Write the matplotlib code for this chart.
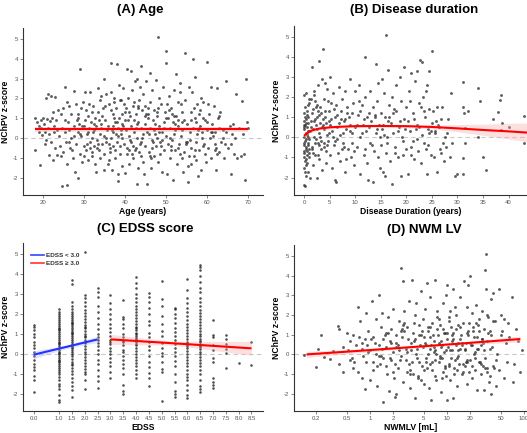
import numpy as np
import matplotlib
matplotlib.use("Agg")
import matplotlib.pyplot as plt
from matplotlib.lines import Line2D

plt.rcParams['font.family'] = ['Liberation Sans', 'DejaVu Sans']

# ---------------- Panel A: Age ----------------
age_x = [18,18.2,18.5,19,19,19.3,19.5,19.8,20,20.3,20.5,20.7,20.8,21,21.2,21.3,21.5,21.7,22,22,22.2,22.5,22.7,22.8,
         23,23,23.3,23.5,23.7,24,24.2,24.5,24.7,24.8,25,25,25.3,25.5,25.6,25.8,26,26,26.2,26.5,26.7,27,27,27.3,27.5,27.6,
         27.8,28,28,28.3,28.5,28.5,28.7,29,29,29.2,29.4,29.6,29.8,30,30,
         30.2,30.5,30.7,31,31,31.2,31.5,31.6,31.8,32,32,32.2,32.4,32.5,32.7,33,33,33.2,33.4,33.5,33.7,33.9,34,34,34.2,34.5,
         34.6,34.8,35,35,35.2,35.4,35.5,35.7,35.9,30.3,31.3,32.8,34.3,30.8,
         36,36.2,36.3,36.5,36.5,36.7,36.8,37,37,37.2,37.4,37.5,37.7,37.9,38,38,38.2,38.4,38.5,38.6,38.8,39,39,39.2,39.4,39.5,
         39.7,39.9,40,40,36.1,37.3,38.3,39.3,36.9,38.9,37.6,39.8,
         40.2,40.3,40.5,40.6,40.8,41,41,41.2,41.4,41.5,41.6,41.8,42,42,42.2,42.4,42.5,42.7,42.9,43,43,43.2,43.3,43.5,43.6,43.8,
         44,44,44.2,44.3,44.5,44.6,44.8,45,45,40.7,41.7,42.6,43.7,44.4,42.3,43.4,
         45.2,45.3,45.4,45.6,45.8,46,46,46.2,46.3,46.5,46.7,46.8,47,47,47.3,47.5,47.6,47.8,48,48,48.2,48.4,48.5,48.7,49,49,
         49.2,49.4,49.5,49.7,50,50,50,50.2,45.7,46.6,47.4,48.6,49.6,
         50.4,50.6,50.8,51,51,51.2,51.4,51.6,51.8,52,52,52.3,52.5,52.5,52.7,53,53,53.2,53.5,53.6,53.8,54,54,54.3,54.5,54.6,
         54.8,55,55.3,55.4,51.5,52.8,53.3,54.2,
         55.6,55.8,56,56,56.3,56.5,56.6,56.8,57,57,57.2,57.5,57.6,57.8,58,58,58.3,58.5,58.6,58.8,59,59.2,59.5,59.7,60,60,
         56.2,57.3,58.2,59.4,
         60.3,60.5,60.8,61,61,61.3,61.6,61.8,62,62.2,62.5,62.6,62.8,63,63.2,63.5,63.8,64,64.5,64.7,65,
         65.5,65.7,65.8,66,66.5,67,67.3,67.8,68.3,68.5,69,69.3,69.5,69.8,70,66.3]
age_y = [1.0,-0.6,0.8,0.6,0.3,-1.35,0.9,0.15,1.0,0.7,0.3,-0.1,2.0,0.95,2.2,0.5,-0.85,0.85,2.1,-0.2,1.0,-1.1,0.3,0.6,
         2.05,-0.5,0.9,-0.85,1.4,0.1,-0.4,1.2,-2.4,0.5,1.5,-0.7,0.3,2.6,-0.2,1.8,-2.35,-1.3,0.8,1.6,-0.5,0.0,1.2,-1.0,2.35,0.6,
         -1.7,1.7,-0.3,0.9,-2.0,1.0,0.3,3.5,-0.8,1.5,0.1,-1.2,1.8,0.6,-0.4,
         2.3,-0.6,0.2,1.1,-1.1,0.5,-0.2,2.3,0.8,-0.9,0.0,1.6,-0.4,0.4,1.0,-1.7,0.6,-0.1,2.5,1.3,-0.6,0.2,1.9,-1.0,0.7,-0.3,
         1.5,0.1,3.0,-0.8,0.9,2.2,-0.2,0.4,-1.3,0.9,1.7,-1.3,2.1,-0.3,
         0.6,1.7,-0.7,3.8,0.0,2.3,-1.6,1.2,-0.4,0.3,2.0,-1.0,0.8,1.5,3.75,-0.2,0.5,-2.17,1.0,2.7,-0.8,0.2,1.9,-1.4,0.7,2.5,
         -0.3,1.3,-1.75,0.9,-0.3,1.8,-1.8,0.0,0.4,1.9,-0.6,1.7,
         0.4,1.5,3.5,-0.5,2.0,-1.3,0.1,1.1,3.4,-0.2,0.6,2.4,-1.0,1.6,0.3,-0.6,2.9,1.2,-2.3,0.0,3.0,0.8,-1.5,1.9,-0.3,0.5,
         3.65,-0.9,1.4,0.2,2.2,-1.8,0.7,-0.4,1.6,0.9,-0.8,0.5,2.6,-1.2,1.8,-0.7,
         2.9,-2.3,0.3,1.0,-0.7,3.3,0.5,1.8,-1.5,-0.1,2.4,0.9,-0.9,1.4,0.2,2.95,-0.4,1.1,5.1,-1.2,0.6,2.0,-0.2,1.7,0.3,-1.7,
         2.6,0.8,-0.6,1.3,4.4,3.8,0.1,-1.8,1.5,-0.5,0.7,-0.8,0.5,
         1.0,-0.3,2.1,0.5,-1.0,1.5,-0.1,0.8,-2.1,2.4,0.2,-0.6,3.25,1.1,-1.3,0.6,1.8,-0.3,2.8,0.1,-1.0,1.3,0.4,-0.7,4.3,1.9,
         -0.2,0.7,-2.2,-1.4,1.2,0.9,2.3,-1.7,
         2.6,0.3,1.3,-0.5,2.3,4.0,0.5,-0.9,3.1,1.0,-0.2,1.7,0.2,-1.9,1.2,-0.6,0.6,2.0,-1.6,0.0,1.8,-0.3,0.9,-1.2,3.85,0.4,
         -1.3,0.8,1.4,-0.8,
         -0.5,1.2,0.0,2.6,-1.0,0.7,1.6,-0.3,0.3,-1.6,2.55,1.0,-0.7,0.5,1.3,-0.2,0.4,-1.0,2.9,0.3,-0.5,
         0.6,-0.3,-1.8,0.2,-0.8,2.2,-1.0,0.5,-0.9,1.85,-0.8,-2.1,3.0,0.8,0.5,0.7]
age_x2 = [19.5,20.5,21.5,22.5,23.5,24.5,25.5,26.5,27.5,28.5,29.5, 30.5,31.5,32.5,33.5,34.5,35.5,
          30.1,31.1,32.1,33.1,34.1,35.1, 36.4,37.4,38.4,39.4,40.4, 36.6,37.8,38.7,39.6,
          40.9,41.9,42.9,43.9,44.9, 41.1,42.1,43.1,44.1, 45.9,46.9,47.9,48.9,49.9, 45.1,46.1,47.1,48.1,49.1,
          50.9,51.9,52.9,53.9,54.9, 50.3,51.3,52.3,53.3,54.3, 55.9,56.9,57.9,58.9,59.9, 55.1,56.1,57.1,58.1,59.1,
          60.9,61.9,62.9,63.9, 60.1,61.1,62.1, 64.3,66.8,68.8,
          26.3,28.9,31.9,33.8,36.2,38.1,41.3,43.2,46.4,48.3,51.1,53.7,57.4,61.5,
          27.1,29.1,32.3,34.9,37.1,39.1,42.8,45.5,47.7,50.7,52.1,55.7,58.7,62.3]
age_y2 = [0.5,-0.3,0.2,1.3,0.4,-0.9,0.9,-0.2,0.1,1.2,0.6, 1.4,-0.5,0.7,-0.3,1.1,0.0,
          -0.9,0.3,1.3,-0.5,0.5,1.6, -0.5,1.0,0.1,1.2,-0.8, 1.4,0.2,-0.4,0.6,
          1.3,-0.4,0.7,-0.2,1.1, -0.6,0.9,1.5,0.0, 0.2,-0.2,1.3,-0.4,1.0, 1.2,-0.9,0.4,1.5,-0.1,
          0.0,1.1,-0.5,0.8,-0.3, 1.7,-0.6,0.4,-0.8,0.9, -0.1,1.5,0.4,-0.4,0.8, -0.2,0.9,-0.6,0.5,1.0,
          0.3,-0.6,1.1,0.0, 1.7,0.3,-0.5, -0.3,0.0,0.2,
          0.4,0.7,-0.7,0.9,-1.1,0.8,-0.1,1.6,-1.0,0.3,-0.4,1.7,-1.1,0.1,
          -0.6,0.2,0.3,-1.6,0.6,0.4,-0.5,1.2,0.0,1.4,0.7,-0.9,0.3,-0.8]
fitA_x = [18, 70]
fitA_y = [0.45, 0.45]
fitA_lo = [0.33, 0.33]
fitA_hi = [0.57, 0.57]

# ---------------- Panel B: Disease duration ----------------
dur_x = [0,0.2,0.3,0.1,0.2,0,0.1,0.3,0,0.2,0.1,0.3,0,0.2,0.1,0.3,0,0.2,0.1,0.4,0.5,0.5,0.6,0.6,0.7,0.7,0.8,0.8,0.9,0.9,
         1,1,0.4,0.5,0.6,0.2,0.3,0.1,0.4,0.7,0.8,0.9,0.0,0.1,
         1.2,1.3,1.5,1.5,1.6,1.8,1.8,2,2,2.2,2.2,2.4,2.5,2.5,2.7,2.8,2.9,3,3,3.1,3.2,3.3,3.5,3.6,1.4,1.7,2.1,2.6,2.3,2.9,
         1.9,1.1,2.7,
         3.8,3.9,4,4,4.2,4.3,4.5,4.5,4.7,4.8,5,5,5.1,5.3,5.4,3.7,4.4,4.9,3.4,4.1,
         5.5,5.6,5.8,6,6,6.2,6.3,6.5,6.7,6.8,7,7,7.2,7.5,7.6,7.8,8,8,8.2,8.5,8.6,8.8,9,9,9.2,9.4,9.5,9.7,10,10,6.4,7.3,8.3,
         9.3,5.9,7.9,
         10.3,10.5,10.8,11,11,11.3,11.5,11.7,12,12,12.2,12.4,12.5,12.7,12.9,13,13.2,13.4,13.5,13.7,14,14,14.2,14.4,14.5,
         14.7,15,15,10.7,11.8,13.8,14.9,
         15.2,15.3,15.5,15.7,15.8,16,16,16.2,16.5,16.6,16.8,17,17.2,17.3,17.5,17.7,18,18,18.3,18.5,18.7,18.9,19,19.3,19.5,
         19.6,20,20,15.9,17.6,19.2,16.4,
         20.3,20.5,20.7,21,21,21.3,21.5,21.8,22,22,22.3,22.5,22.7,22.9,23,23,23.3,23.5,23.7,24,24,24.2,24.5,24.5,24.8,25,25,
         20.8,22.1,23.8,24.3,21.6,
         25.3,25.5,25.7,26,26,26.3,26.5,26.8,27,27.3,27.7,28,28.5,28.8,29,29.5,30,25.8,27.5,
         31,31,31.2,31.4,31,31,31.5,32,34,34.5,34,35,35.5,37,38,38.3,38.5,38.7,38.5,40,43,43]
dur_y = [-2.35,-2.4,-1.9,-1.5,-1.2,-1.0,-0.8,-0.6,-0.4,-0.2,0.0,0.2,0.4,0.6,0.8,0.9,1.2,1.5,2.1,2.2,-0.9,0.1,-1.3,0.5,
         1.6,-0.3,1.0,-1.7,0.3,-0.6,1.7,-0.1,-1.1,1.3,-0.7,-1.7,-0.1,0.5,0.7,0.0,-0.4,1.9,-0.7,-0.3,
         -2.0,0.8,3.5,-0.5,1.2,0.4,-1.4,2.3,0.0,1.8,-0.9,0.6,-2.0,1.0,-0.3,2.6,0.2,3.8,-1.1,1.5,0.7,-0.6,2.9,-1.6,1.9,-0.8,
         0.9,1.6,-0.1,-0.4,2.1,0.3,1.3,
         4.4,0.4,-0.5,1.9,1.0,-1.3,2.4,0.1,-0.2,1.3,3.0,-0.9,0.6,1.7,-1.5,0.9,-0.7,0.8,1.2,2.7,
         0.3,2.2,-0.4,1.0,-2.1,-2.2,1.6,0.5,-0.8,2.5,0.1,-1.2,1.3,1.9,-0.3,0.8,-1.7,2.3,0.4,1.5,-0.6,1.0,0.6,2.9,-1.0,0.2,
         1.7,-1.4,2.3,0.5,-0.1,0.9,-1.1,1.2,1.4,-0.5,
         -0.5,1.1,2.6,0.0,-1.8,1.6,0.6,-0.9,4.0,2.0,0.3,-1.3,-2.1,1.2,-0.3,2.3,0.8,-2.2,1.5,-0.7,3.65,0.2,1.8,-1.0,2.7,0.6,
         -0.4,1.2,1.8,0.9,1.0,-1.5,
         2.9,0.4,-1.7,2.2,1.0,5.1,-0.8,0.0,3.35,1.6,-1.2,0.7,-2.3,2.0,0.2,-0.5,2.6,1.3,-1.0,0.5,3.0,-1.9,1.8,-0.2,3.5,0.9,
         1.5,-0.6,-1.9,1.4,0.0,0.8,
         -1.8,2.3,0.3,3.2,-0.5,1.2,-1.1,2.8,3.3,0.6,-0.7,1.7,3.85,-1.3,0.1,3.75,2.0,-0.3,1.0,2.6,-1.8,0.4,3.3,1.4,-0.9,4.3,
         0.7,1.8,-0.1,2.3,-0.4,0.9,
         1.3,-1.0,0.2,1.5,-1.7,0.5,-0.6,0.9,1.5,-1.2,-0.5,0.2,-1.0,2.2,-0.3,-1.9,-1.8,0.8,0.0,
         2.75,1.5,1.2,-0.3,-1.05,-1.8,0.45,1.3,2.45,1.8,0.0,-1.0,-1.6,0.9,1.25,1.85,2.1,0.7,0.35,0.5,1.05,-0.3]
dur_x2 = [0.1,0.3,0.5,0.7,0.9, 0.2,0.4,0.6,0.8,1.0, 1.3,1.7,2.1,2.5,2.9,3.3,3.7,4.1,4.5,4.9,
          1.5,1.9,2.3,2.7,3.1,3.5,3.9,4.3,4.7, 5.3,6.1,6.9,7.7,8.5,9.3, 5.7,6.5,7.4,8.1,8.9,9.8,
          10.4,11.4,12.3,13.3,14.3, 10.9,11.9,12.8,13.9,14.8, 15.4,16.3,17.4,18.4,19.4, 15.6,16.7,17.8,18.8,19.8,
          20.4,21.4,22.4,23.4,24.4, 20.9,21.9,22.8,23.9,24.9, 26.2,27.2,28.2, 25.6,26.7]
dur_y2 = [0.6,-0.5,1.1,0.3,-1.0, 1.0,-1.4,0.2,0.7,-0.8, 0.5,1.4,-0.3,0.4,1.1,-0.2,0.6,1.3,-0.4,0.2,
          -0.6,0.8,1.5,-0.9,0.0,0.5,-0.3,0.7,1.8, 0.9,-0.2,0.7,0.2,1.2,-0.3, 0.0,1.1,-0.6,0.9,0.3,-0.7,
          0.6,0.2,1.0,-0.4,0.4, 1.3,-0.6,0.5,1.1,0.0, 0.6,-0.3,1.2,0.3,-0.9, 0.1,1.0,-0.8,0.8,0.4,
          0.8,-0.2,0.5,1.3,0.2, -0.9,0.4,1.5,-0.6,0.3, 0.6,-0.3,0.9, 0.3,-0.8]
fitB_x = [0, 1, 2, 3, 5, 7, 10, 15, 20, 25, 30, 35, 40, 43.6]
fitB_y = [0.08, 0.3, 0.38, 0.44, 0.5, 0.53, 0.56, 0.57, 0.56, 0.52, 0.45, 0.37, 0.3, 0.24]
fitB_lo = [-0.08, 0.2, 0.29, 0.36, 0.42, 0.46, 0.49, 0.5, 0.48, 0.42, 0.28, 0.1, -0.08, -0.22]
fitB_hi = [0.24, 0.4, 0.47, 0.52, 0.58, 0.6, 0.63, 0.64, 0.64, 0.62, 0.64, 0.66, 0.7, 0.72]

# ---------------- Panel C: EDSS ----------------
edss_levels = [0.0, 1.0, 1.5, 2.0, 2.5, 3.0, 3.5, 4.0, 4.5, 5.0, 5.5, 6.0, 6.5, 7.0, 7.5, 8.0, 8.5]
edss_00 = [-1.9,-1.3,-1.1,-0.8,-0.65,-0.5,-0.3,-0.1,0.1,0.3,0.45,0.6,0.85,1.0,1.2,1.35,1.45]
edss_10 = [-2.4,-2.3,-2.05,-1.75,-1.5,-1.3,-1.15,-1.0,-0.9,-0.8,-0.7,-0.6,-0.5,-0.4,-0.3,-0.2,-0.1,0.0,0.05,0.1,0.2,
           0.3,0.4,0.5,0.6,0.7,0.8,0.9,1.0,1.1,1.2,1.3,1.4,1.5,1.6,1.7,1.8,1.9,2.0,2.1,2.25,-1.6,-0.35,0.55,1.25]
edss_15 = [-2.15,-1.8,-1.6,-1.4,-1.2,-1.0,-0.85,-0.7,-0.55,-0.4,-0.25,-0.1,0.0,0.1,0.2,0.3,0.4,0.5,0.6,0.7,0.8,0.9,
           1.0,1.1,1.2,1.3,1.4,1.5,1.6,1.7,1.8,1.9,2.0,2.1,2.25,2.4,2.6,3.5,3.7,-0.5,0.35,1.05,1.55]
edss_20 = [-1.75,-1.3,-1.0,-0.9,-0.75,-0.6,-0.45,-0.3,-0.15,0.0,0.1,0.25,0.4,0.55,0.7,0.85,1.0,1.15,1.3,1.45,1.6,
           1.75,1.9,2.05,2.2,2.4,2.6,2.8,2.95,0.6,0.9,1.35,5.1]
edss_25 = [-1.7,-1.35,-1.1,-0.8,-0.5,-0.3,0.0,0.2,0.4,0.55,0.7,0.85,1.0,1.25,1.5,1.8,2.1,2.4,2.85,3.1,3.3]
edss_30 = [-1.2,-0.9,-0.6,-0.4,-0.2,0.0,0.3,0.5,0.7,0.9,1.1,1.3,1.5,1.75,2.0,2.25,2.55,2.95,0.15,0.6]
edss_35 = [-2.0,-1.85,-1.55,-1.0,-0.7,-0.5,-0.3,-0.1,0.2,0.45,0.65,0.85,1.0,1.3,1.5,1.75,1.85,2.7,0.6,0.1]
edss_40 = [-1.2,-1.0,-0.8,-0.6,-0.45,-0.3,-0.15,0.0,0.15,0.3,0.45,0.6,0.75,0.9,1.05,1.2,1.35,1.5,1.65,1.8,1.95,
           2.1,2.25,2.4,2.6,2.8,3.0,3.3,3.55,3.85,0.5,1.0,0.8,1.3]
edss_45 = [-1.6,-1.2,-0.95,-0.65,-0.4,-0.1,0.2,0.4,0.6,0.85,1.05,1.45,1.65,2.0,2.3,2.6,2.85,3.05]
edss_50 = [-2.35,-0.9,-0.75,-0.4,-0.1,0.05,0.3,0.55,0.9,1.15,1.5,1.9,2.4,2.75,3.65]
edss_55 = [-2.15,-2.0,-1.85,-1.4,-1.0,-0.6,-0.35,-0.1,0.1,0.3,0.5,0.7,0.9,1.1,1.3,1.55,1.8,2.0,2.25,2.3]
edss_60 = [-2.2,-2.05,-1.8,-1.55,-1.3,-1.15,-1.0,-0.8,-0.6,-0.45,-0.3,-0.15,0.0,0.15,0.3,0.45,0.6,0.75,0.9,1.05,
           1.2,1.35,1.5,1.7,1.9,2.1,2.3,2.55,2.8,3.2,3.75,0.4,0.55]
edss_65 = [-1.9,-1.75,-1.6,-1.3,-1.0,-0.8,-0.6,-0.45,-0.3,-0.15,0.0,0.1,0.25,0.4,0.5,0.6,0.75,0.9,1.0,1.15,1.3,1.45,
           1.6,1.75,1.9,2.05,2.2,2.4,2.6,2.8,3.1,3.3,3.6,3.9,4.2,4.35,4.45,0.35,0.65]
edss_70 = [-1.7,-1.55,-1.4,-1.2,-0.4,-0.2,0.2,0.45,0.85,0.95,1.7]
edss_75 = [-0.7,0.05,0.25,0.5,0.75,0.95]
edss_80 = [-0.45]
edss_85 = [0.6,-0.55]
edss_groups = [edss_00, edss_10, edss_15, edss_20, edss_25, edss_30, edss_35, edss_40, edss_45,
               edss_50, edss_55, edss_60, edss_65, edss_70, edss_75, edss_80, edss_85]
edss_ticks = [0.0, 1.0, 1.5, 2.0, 2.5, 3.0, 3.5, 4.0, 4.5, 5.0, 5.5, 6.0, 6.5, 7.0, 7.5, 8.0, 8.5]
fitC1_x = [0.0, 1.25, 2.5]
fitC1_y = [-0.05, 0.335, 0.72]
fitC1_lo = [-0.25, 0.25, 0.57]
fitC1_hi = [0.15, 0.42, 0.87]
fitC2_x = [3.0, 5.5, 8.5]
fitC2_y = [0.72, 0.52, 0.27]
fitC2_lo = [0.47, 0.42, -0.08]
fitC2_hi = [0.97, 0.62, 0.62]

# ---------------- Panel D: NWM LV ----------------
nw_x = [0.14,0.2,0.21,0.23,0.25,0.3,0.33,0.38,0.4,0.4,0.45,0.45,0.5,0.55,0.55,0.6,0.6,0.65,0.7,0.7,0.75,0.8,0.8,0.85,
        0.85,0.9,0.9,0.95,1.0,1.0,1.05,1.1,1.1,1.2,1.2,1.25,1.3,1.3,1.35,1.4,1.45,1.5,1.5,1.55,1.6,1.65,1.7,1.75,1.8,
        1.85,1.9,2.0,2.0,2.05,2.1,2.2,2.2,2.3,2.35,2.4,2.5,2.5,2.6,2.7,2.7,2.8,2.9,3.0,3.0,3.2,3.3,3.4,3.5,3.5,3.6,3.8,
        3.9,4.0,4.0,4.2,4.3,4.5,4.6,4.7,4.9,5.0,5.0,5.2,5.4,5.5,5.6,5.8,6,6,6.2,6.4,6.5,6.7,7,7,7.2,7.5,7.7,8,8,8.3,8.5,
        8.8,9,9,9.3,9.6,10,10,10,10.5,10.7,11,11,11.5,12,12,12,12.5,13,13,13.5,14,14,15,15,15.5,16,16.5,17,17,18,18,19,
        19,20,20,20,21,21,22,23,23,24,25,25,26,27,28,28,29,30,30,31,31,32,32,33,33,34,35,36,37,38,38,40,40,42,44,45,47,
        48,50,50,55,55,58,60,62,65,70,72,75,80,85,90,95,
        1.15,1.4,1.7,2.1,2.4,2.6,2.9,3.1,3.3,3.7,4.1,4.4,4.8,5.1,5.3,5.7,6.1,6.6,6.9,7.3,7.8,8.1,8.6,9.1,9.5,10.2,10.8,
        11.3,11.8,12.3,13.2,13.8,14.5,15.2,16.2,17.5,18.5,19.5,21.5,22.5,24.5,26.5,27.5,29.5,34.5,36.5,39,43,
        1.6,2.2,2.8,3.6,4.4,5.3,6.3,7.4,8.7,9.8,11.2,13.4,15.8,18.8,23.5,28.5,33.5,41,52,
        0.95,1.3,1.9,2.5,3.2,3.9,4.6,5.6,6.8,8.2,9.4,10.6,12.6,14.8,17.8,21,25.5,31.5,39.5]
nw_y = [-0.05,-0.66,0.3,0.96,-0.15,-0.25,0.15,1.45,1.3,-0.5,0.4,-0.9,1.1,0.7,-0.3,1.0,-0.7,0.5,2.4,-0.9,1.7,0.3,-1.2,
        0.8,-1.75,2.1,-0.4,1.2,0.2,-1.3,2.7,0.9,-0.8,1.8,0.0,-1.6,3.0,0.5,-0.5,1.4,2.1,-2.4,-0.2,1.0,0.4,-1.0,1.9,-1.85,
        0.7,-0.3,1.3,0.1,2.3,-1.2,-2.15,-2.0,1.0,0.5,-0.7,1.7,4.4,-0.1,0.9,3.7,-1.4,2.2,0.3,-0.9,1.4,2.7,-1.7,0.6,3.8,
        -0.4,1.1,2.0,-2.2,0.0,2.6,-1.1,1.5,0.5,3.2,-0.6,1.8,-1.5,0.9,2.3,-0.2,3.6,1.2,-1.7,0.3,2.9,-2.3,-0.8,1.6,0.7,3.8,
        -1.1,0.0,2.2,1.0,-0.4,1.8,-1.9,0.4,2.6,-0.9,1.3,0.1,3.0,-2.3,0.8,3.5,-0.5,1.7,2.2,-1.3,0.2,-2.2,3.3,1.1,-0.7,2.0,
        0.5,-1.6,1.5,-0.1,2.9,0.8,-1.0,1.6,3.7,0.2,-0.6,2.4,-1.5,1.0,3.5,-0.3,4.0,0.6,2.1,-1.2,1.4,-0.8,0.1,2.5,-1.8,0.9,
        1.8,-0.4,-1.0,0.5,2.2,-1.8,1.3,4.3,-0.2,5.1,3.3,0.7,-0.9,1.9,-1.4,0.3,2.8,-2.0,1.0,3.1,-0.6,1.7,-1.6,0.0,3.3,-0.8,
        1.0,2.0,1.8,-1.2,0.6,-0.4,1.6,0.9,2.9,-1.4,-0.5,1.3,0.7,-0.9,0.2,
        0.6,-0.1,1.1,-0.5,0.2,1.3,-0.3,0.8,-1.0,1.6,0.3,-0.4,1.2,-0.8,0.5,1.4,-0.5,1.0,0.1,-1.3,0.6,1.5,-0.2,1.1,-0.7,
        0.4,1.9,-0.2,0.7,-1.0,1.3,0.2,-0.5,1.0,-0.9,0.6,-0.3,1.6,-0.6,0.9,0.3,1.2,-0.5,0.6,1.1,-1.1,0.4,-0.3,
        -0.6,0.4,1.6,-1.0,1.0,-0.4,0.5,1.9,-1.2,0.2,1.4,-0.8,0.6,1.2,-0.2,0.8,2.0,-0.7,1.2,
        0.1,-0.1,0.6,1.2,-0.5,0.8,-1.3,0.0,0.4,-0.2,1.1,-0.6,2.4,0.3,-0.4,0.5,1.5,-0.7,1.7]
nw_x2 = [0.52,0.62,0.72,0.82,0.92, 1.02,1.22,1.42,1.62,1.82, 2.15,2.45,2.75,3.05,3.35, 3.75,4.15,4.55,4.95,5.45,
         5.95,6.45,6.95,7.55,8.15, 8.75,9.35,9.95,10.9,11.9, 12.9,13.9,14.9,16.1,17.3, 18.3,19.3,20.5,22.2,24.2,
         26.2,28.2,30.5,33.2,36.2, 0.58,0.78,1.08,1.48,1.98, 2.65,3.45,4.25,5.15,6.05, 7.05,8.35,9.65,11.6,13.6,
         15.6,18.1,21.6,25.1,29.6]
nw_y2 = [0.2,-0.4,0.9,-0.1,0.5, 0.8,-0.6,0.3,1.1,-0.2, 0.6,-0.3,1.2,0.1,-0.8, 0.7,-0.2,1.0,0.4,-0.7,
         0.9,-0.4,0.2,1.3,-0.1, 0.5,-0.6,1.1,0.2,0.8, -0.3,0.6,1.4,-0.5,0.3, 1.1,-0.9,0.5,0.0,1.6,
         -0.4,0.8,0.2,-0.7,1.2, -0.2,0.6,-0.4,0.8,-0.9, 1.5,0.2,-1.2,0.6,1.4, -0.3,0.7,-1.1,1.0,-0.2,
         0.5,-0.4,1.2,0.3,-0.6]
fitD_x = [0.15, 1.0, 10.0, 90.0]
fitD_y = [0.0, 0.22, 0.5, 0.78]
fitD_lo = [-0.15, 0.13, 0.44, 0.63]
fitD_hi = [0.15, 0.31, 0.56, 0.93]
nw_ticks = [0.2, 0.5, 1, 2, 5, 10, 20, 50, 100]
nw_ticklabels = ['0.2', '0.5', '1', '2', '5', '10', '20', '50', '100']

# ---------------- Figure ----------------
W, H = 527, 433
fig = plt.figure(figsize=(W / 100, H / 100), dpi=100)

def box(l, t, r, b):
    return [l / W, 1 - b / H, (r - l) / W, (b - t) / H]

axA = fig.add_axes(box(23, 28, 263, 195))
axB = fig.add_axes(box(294, 26, 527, 195))
axC = fig.add_axes(box(23, 243, 263, 411))
axD = fig.add_axes(box(294, 245, 527, 411))

PT = dict(s=4.2, c='#333333', alpha=0.8, linewidths=0, zorder=2)
YLIM = (-2.87, 5.55)

def style(ax, xlabel):
    ax.set_ylim(*YLIM)
    ax.set_yticks([-2, -1, 0, 1, 2, 3, 4, 5])
    ax.set_yticklabels(['-2', '-1', '0', '1', '2', '3', '4', '5'])
    for s in ('top', 'right'):
        ax.spines[s].set_visible(False)
    for s in ('left', 'bottom'):
        ax.spines[s].set_color('#333333')
        ax.spines[s].set_linewidth(0.8)
    ax.tick_params(axis='both', labelsize=4.3, colors='#555555', length=2, width=0.5, pad=1.5)
    ax.axhline(0, color='#c8c8c8', lw=0.8, ls=(0, (4, 3)), zorder=1)
    ax.set_ylabel('NChPV z-score', fontsize=6.2, fontweight='bold', labelpad=2)
    ax.set_xlabel(xlabel, fontsize=6.2, fontweight='bold', labelpad=1.5)

def band(ax, x, y, lo, hi, col, fill):
    ax.fill_between(x, lo, hi, color=fill, alpha=0.35, lw=0, zorder=3)
    ax.plot(x, y, color=col, lw=1.5, zorder=4, solid_capstyle='butt')

# A
axA.scatter(age_x + age_x2, age_y + age_y2, **PT)
band(axA, fitA_x, fitA_y, fitA_lo, fitA_hi, '#ff0000', '#f7a8a8')
axA.set_xlim(15.2, 73.6)
axA.set_xticks([20, 30, 40, 50, 60, 70])
style(axA, 'Age (years)')

# B
axB.scatter(dur_x + dur_x2, dur_y + dur_y2, **PT)
band(axB, fitB_x, fitB_y, fitB_lo, fitB_hi, '#ff0000', '#f7a8a8')
axB.set_xlim(-1.95, 43.6)
axB.set_xticks([0, 5, 10, 15, 20, 25, 30, 35, 40])
style(axB, 'Disease Duration (years)')

# C
cx, cy = [], []
for lev, g in zip(edss_levels, edss_groups):
    cx += [lev] * len(g)
    cy += g
axC.scatter(cx, cy, s=3.4, c='#222222', alpha=0.8, linewidths=0, zorder=2)
band(axC, fitC1_x, fitC1_y, fitC1_lo, fitC1_hi, '#2233ff', '#a8b0f5')
band(axC, fitC2_x, fitC2_y, fitC2_lo, fitC2_hi, '#ff0000', '#f7a8a8')
axC.set_xlim(-0.41, 8.95)
axC.set_xticks(edss_ticks)
axC.set_xticklabels(['%.1f' % t for t in edss_ticks])
style(axC, 'EDSS')
hl = [Line2D([], [], color='#3344ff', lw=1.2), Line2D([], [], color='#ff3333', lw=1.2)]
leg = axC.legend(hl, ['EDSS < 3.0', 'EDSS \u2265 3.0'], loc='upper left', frameon=False,
                 prop={'size': 4.6, 'weight': 'bold'}, handlelength=2.1, handletextpad=0.4,
                 labelspacing=0.4, borderaxespad=0.4, bbox_to_anchor=(0.01, 0.975))
for t in leg.get_texts():
    t.set_color('#333333')

# D
axD.scatter(nw_x + nw_x2, nw_y + nw_y2, **PT)
band(axD, fitD_x, fitD_y, fitD_lo, fitD_hi, '#ff0000', '#f7a8a8')
axD.set_xscale('log')
axD.set_xlim(0.103, 110)
axD.set_xticks(nw_ticks)
axD.set_xticklabels(nw_ticklabels)
axD.xaxis.set_minor_locator(matplotlib.ticker.NullLocator())
style(axD, 'NWMLV [mL]')

# Titles
fig.text(140 / W, 1 - 10 / H, '(A) Age', ha='center', va='center', fontsize=9.5, fontweight='bold')
fig.text(414 / W, 1 - 10 / H, '(B) Disease duration', ha='center', va='center', fontsize=9.5, fontweight='bold')
fig.text(145 / W, 1 - 229 / H, '(C) EDSS score', ha='center', va='center', fontsize=9.5, fontweight='bold')
fig.text(424 / W, 1 - 230 / H, '(D) NWM LV', ha='center', va='center', fontsize=9.5, fontweight='bold')

fig.savefig('out.png', dpi=100)
